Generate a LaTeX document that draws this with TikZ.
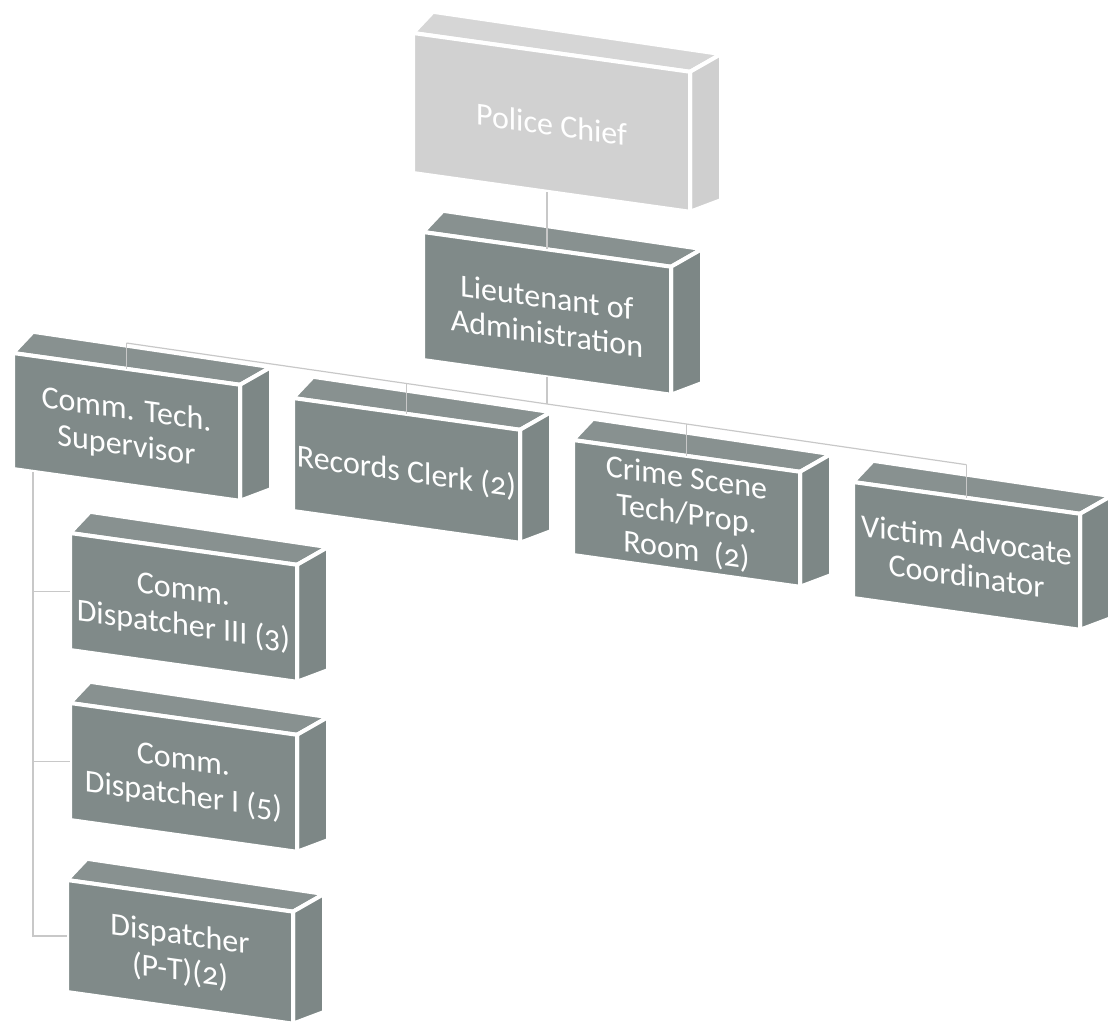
\documentclass[tikz,border=0pt]{standalone}
\usepackage{fontspec}
\setmainfont{Carlito}[Numbers=OldStyle]
\definecolor{Dfront}{HTML}{808A89}
\definecolor{Dtop}{HTML}{889190}
\definecolor{Dside}{HTML}{7D8786}
\definecolor{Lfront}{HTML}{D1D1D1}
\definecolor{Ltop}{HTML}{D6D6D6}
\definecolor{Lside}{HTML}{CFCFCF}
\definecolor{conncol}{HTML}{C8C8C8}
\tikzset{
  face/.style={draw=white, line width=4pt, line join=round},
  conn/.style={draw=conncol, line width=1.2pt},
  lbl/.style={text=white, align=center, transform shape, inner sep=0pt,
    font=\fontsize{32}{36}\selectfont}
}
% #1 name, #2 x, #3 y (front top-left), #4 width, #5 height, #6 colour set, #7 text
\newcommand\orgbox[7]{%
  \begin{scope}[shift={(#2,#3)}, yslant=-0.14]
    \path[face, fill=#6top] (0,0) -- (20,-24) -- (#4+31,-22) -- (#4,0) -- cycle;
    \path[face, fill=#6side] (#4,0) -- (#4+31,-22) -- (#4+31,#5-16) -- (#4,#5) -- cycle;
    \path[face, fill=#6front] (0,0) rectangle (#4,#5);
    \node[lbl] (#1) at (#4/2,#5/2+2) {#7};
    \coordinate (#1-t) at (#4/2,0);
    \coordinate (#1-b) at (#4/2,#5);
    \coordinate (#1-l) at (0,#5/2);
    \coordinate (#1-bl) at (20,#5);
  \end{scope}}
\begin{document}
\begin{tikzpicture}[x=1pt, y=-1pt]
\useasboundingbox (0,0) rectangle (1108,1027);
\orgbox{pc}{413}{33}{277}{140}{L}{Police Chief}
\orgbox{lt}{423}{232}{248}{128}{D}{Lieutenant of\\Administration}
\orgbox{ct}{13}{353}{227}{116}{D}{Comm. Tech.\\Supervisor}
\orgbox{rc}{293}{398}{227}{113}{D}{Records Clerk (2)}
\orgbox{cs}{573}{440}{227}{115}{D}{Crime Scene\\Tech/Prop.\\Room\ \ (2)}
\orgbox{va}{853}{482}{227}{116}{D}{Victim Advocate\\Coordinator}
\orgbox{dthree}{70}{533}{227}{117}{D}{Comm.\\Dispatcher III (3)}
\orgbox{done}{70}{703}{227}{117}{D}{Comm.\\Dispatcher I (5)}
\orgbox{dpt}{67}{880}{226}{112}{D}{Dispatcher\\(P-T)(2)}
% junctions on the bus
\coordinate (ct-j) at (126.5,343);
\coordinate (rc-j) at (406.5,383.5);
\coordinate (lt-j) at (547,404);
\coordinate (cs-j) at (686.5,424);
\coordinate (va-j) at (966.5,464.7);
% connectors
\draw[conn] (lt-t |- pc-b) -- (lt-t);
\draw[conn] (lt-b) -- (lt-j);
\draw[conn] (ct-j) -- (rc-j) -- (lt-j) -- (cs-j) -- (va-j);
\draw[conn] (ct-j) -- (ct-t);
\draw[conn] (rc-j) -- (rc-t);
\draw[conn] (cs-j) -- (cs-t);
\draw[conn] (va-j) -- (va-t);
\draw[conn] (ct-bl) -- (ct-bl |- dpt-l) -- (dpt-l);
\draw[conn] (ct-bl |- dthree-l) -- (dthree-l);
\draw[conn] (ct-bl |- done-l) -- (done-l);
\end{tikzpicture}
\end{document}
